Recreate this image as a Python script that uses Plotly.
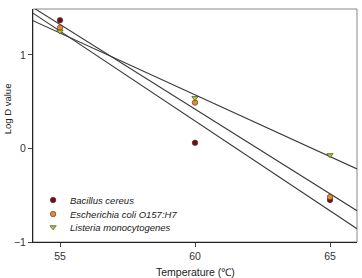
import numpy as np
import plotly.graph_objects as go

temps = [55, 60, 65]
bacillus = [1.37, 0.06, -0.55]
ecoli = [1.29, 0.49, -0.52]
listeria = [1.25, 0.54, -0.07]

series = [
    ("Bacillus cereus", bacillus, "#7a0c10", "circle"),
    ("Escherichia coli O157:H7", ecoli, "#e8892c", "circle"),
    ("Listeria monocytogenes", listeria, "#b9c61e", "triangle-down"),
]

# legend layout (paper fractions of the plot area)
leg_marker_x = 0.062
leg_text_x = 0.108
leg_rows_y = [0.18, 0.12, 0.064]

x_range = [54, 66]
fig = go.Figure()
for name, vals, col, sym in series:
    k, b = np.polyfit(temps, vals, 1)
    xs = np.array(x_range, dtype=float)
    fig.add_trace(go.Scatter(x=xs, y=k * xs + b, mode="lines",
                             line=dict(color="#3a3a3a", width=1.1),
                             showlegend=False, hoverinfo="skip"))
for name, vals, col, sym in series:
    fig.add_trace(go.Scatter(x=temps, y=vals, mode="markers", name=name,
                             showlegend=False,
                             marker=dict(color=col, symbol=sym, size=5.5,
                                         line=dict(color="#333333", width=0.6))))

# custom compact legend
for (name, vals, col, sym), ly in zip(series, leg_rows_y):
    fig.add_trace(go.Scatter(x=[leg_marker_x], y=[ly], mode="markers",
                             xaxis="x2", yaxis="y2", showlegend=False,
                             hoverinfo="skip",
                             marker=dict(color=col, symbol=sym, size=5.5,
                                         line=dict(color="#333333", width=0.6))))
    fig.add_annotation(x=leg_text_x, y=ly, xref="paper", yref="paper",
                       text=name, showarrow=False, xanchor="left",
                       yanchor="middle",
                       font=dict(size=9.5, style="italic", color="#222222"))

tickfont = dict(size=10.5, color="#333333")
fig.update_layout(
    width=362, height=278,
    margin=dict(l=33, r=5, t=9, b=36),
    paper_bgcolor="white", plot_bgcolor="white",
    font=dict(family="Liberation Sans, Arial, sans-serif", size=10, color="#222222"),
    showlegend=False,
    xaxis=dict(range=x_range, tickvals=[55, 60, 65], ticks="outside", ticklen=4,
               showline=True, linecolor="#222222", linewidth=1, showgrid=False,
               zeroline=False, automargin=False, tickfont=tickfont),
    yaxis=dict(range=[-1, 1.49], tickvals=[-1, 0, 1], ticks="outside", ticklen=4,
               showline=True, linecolor="#222222", linewidth=1, showgrid=False,
               zeroline=False, automargin=False, tickfont=tickfont),
    xaxis2=dict(range=[0, 1], overlaying="x", visible=False, fixedrange=True),
    yaxis2=dict(range=[0, 1], overlaying="y", visible=False, fixedrange=True),
)
fig.add_annotation(x=0.5, y=-0.129, xref="paper", yref="paper",
                   text="Temperature (℃)", showarrow=False,
                   xanchor="center", yanchor="middle", font=dict(size=10.5))
fig.add_annotation(x=-0.08, y=0.57, xref="paper", yref="paper",
                   text="Log D value", showarrow=False, textangle=-90,
                   xanchor="center", yanchor="middle", font=dict(size=9.5))
fig.add_shape(type="rect", xref="paper", yref="paper", x0=0, y0=0, x1=1, y1=1,
              line=dict(color="#888888", width=1), layer="below")
fig.write_html("out.html")
